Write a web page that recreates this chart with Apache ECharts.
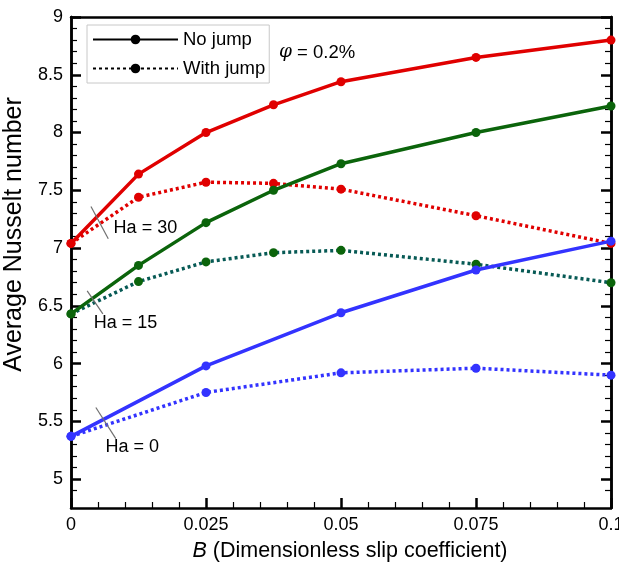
<!DOCTYPE html>
<html>
<head>
<meta charset="utf-8">
<script src="https://cdn.jsdelivr.net/npm/echarts@6/dist/echarts.min.js"></script>
<style>
  html, body { margin: 0; padding: 0; background: #fff; }
  #chart { width: 619px; height: 564px; }
</style>
</head>
<body>
<div id="chart"></div>
<script>
// Slip coefficient values where each curve was evaluated
const slipB = [0, 0.0125, 0.025, 0.0375, 0.05, 0.075, 0.1];
const slipBCoarse = [0, 0.025, 0.05, 0.075, 0.1];

// Average Nusselt number, Ha = 30
const ha30NoJump   = [7.04, 7.64, 8.00, 8.24, 8.44, 8.65, 8.80];
const ha30WithJump = [7.04, 7.44, 7.57, 7.56, 7.51, 7.28, 7.04];
// Ha = 15
const ha15NoJump   = [6.43, 6.85, 7.22, 7.50, 7.73, 8.00, 8.23];
const ha15WithJump = [6.43, 6.71, 6.88, 6.96, 6.98, 6.86, 6.70];
// Ha = 0
const ha0NoJump    = [5.37, 5.98, 6.44, 6.81, 7.06];
const ha0WithJump  = [5.37, 5.75, 5.92, 5.96, 5.90];

// Axis ticks
const xTicks = [0, 0.025, 0.05, 0.075, 0.1];
const yTicks = [5, 5.5, 6, 6.5, 7, 7.5, 8, 8.5, 9];
const yMin = 4.75, yMax = 9;

// Hartmann-number callouts: leader line ends and label anchor (data units)
const haNotes = [
  { text: 'Ha = 30', from: [0.0037, 7.36], to: [0.0069, 7.08], at: [0.0078, 7.17] },
  { text: 'Ha = 15', from: [0.0030, 6.63], to: [0.0059, 6.43], at: [0.0041, 6.35] },
  { text: 'Ha = 0',  from: [0.0046, 5.62], to: [0.0083, 5.35], at: [0.0063, 5.28] }
];

const FONT = 'Liberation Sans, Arial, Helvetica, sans-serif';
const RED = '#e00000', GREEN = '#0b640b', TEAL = '#075a55', BLUE = '#3333ff';
const LW = 3.5;
const DOT = [3, 3];

// minor ticks every 0.1 on the value axis
const yMinor = [];
for (let k = Math.round(yMin * 10) + 1; k <= yMax * 10; k++) {
  const v = k / 10;
  if (!yTicks.some(t => Math.abs(t - v) < 1e-9)) yMinor.push(v);
}

function pairs(xs, ys) { return xs.map((x, i) => [x, ys[i]]); }

function curve(name, xs, ys, color, dotted, markerColor) {
  return {
    name: name,
    type: 'line',
    data: pairs(xs, ys),
    symbol: 'circle',
    symbolSize: 9,
    showSymbol: true,
    color: color,
    itemStyle: { color: markerColor || color },
    lineStyle: { width: LW, color: color, type: dotted ? DOT : 'solid', cap: 'butt' },
    z: dotted ? 3 : 4,
    silent: true,
    animation: false
  };
}

function valueAxis(position, ticks, len, width, withLabels) {
  return {
    type: 'value', min: yMin, max: yMax, position: position,
    axisLine: { show: true, onZero: false, lineStyle: { color: '#000', width: 2.5 } },
    axisTick: { show: true, inside: true, length: len, customValues: ticks, lineStyle: { color: '#000', width: width } },
    axisLabel: withLabels ? { show: true, customValues: yTicks, margin: 8, color: '#000', fontSize: 18, fontFamily: FONT }
                          : { show: false },
    splitLine: { show: false }
  };
}

const series = [
  curve('Ha30 no jump', slipB, ha30NoJump, RED, false),
  curve('Ha30 with jump', slipB, ha30WithJump, RED, true),
  curve('Ha15 no jump', slipB, ha15NoJump, GREEN, false),
  curve('Ha15 with jump', slipB, ha15WithJump, TEAL, true, GREEN),
  curve('Ha0 no jump', slipBCoarse, ha0NoJump, BLUE, false),
  curve('Ha0 with jump', slipBCoarse, ha0WithJump, BLUE, true),
  // legend keys
  { name: 'No jump', type: 'line', data: [], symbol: 'circle', symbolSize: 10, color: '#000',
    lineStyle: { width: LW, color: '#000' } },
  { name: 'With jump', type: 'line', data: [], symbol: 'circle', symbolSize: 10, color: '#000',
    lineStyle: { width: LW, color: '#000', type: DOT } }
];

haNotes.forEach(n => {
  series.push({
    type: 'line', data: [n.from, n.to], symbol: 'none', silent: true, animation: false,
    lineStyle: { color: '#707070', width: 1.2 }, z: 6
  });
  series.push({
    type: 'scatter', data: [n.at], symbolSize: 1, silent: true, animation: false, z: 6,
    itemStyle: { color: 'rgba(0,0,0,0)' },
    label: { show: true, position: 'right', distance: 0, verticalAlign: 'middle',
             formatter: n.text, color: '#000', opacity: 1, fontSize: 18, fontFamily: FONT,
             textBorderWidth: 0 }
  });
});

const chart = echarts.init(document.getElementById('chart'), null, { renderer: 'canvas' });
chart.setOption({
  backgroundColor: '#fff',
  animation: false,
  grid: { left: 71, right: 8, top: 17, bottom: 56, outerBoundsMode: 'none', containLabel: false },
  title: {
    left: 274, top: 38,
    text: '{i|φ} = 0.2%',
    textStyle: { fontSize: 18.5, fontWeight: 'normal', color: '#000', fontFamily: FONT,
                 rich: { i: { fontStyle: 'italic', fontSize: 18.5, fontFamily: 'DejaVu Serif, serif', color: '#000' } } }
  },
  legend: {
    data: ['No jump', 'With jump'],
    orient: 'vertical', left: 87, top: 25,
    itemWidth: 85, itemHeight: 12, itemGap: 10,
    padding: [5, 4, 5, 5],
    borderColor: '#c8c8c8', borderWidth: 1, backgroundColor: '#fff',
    textStyle: { fontSize: 18.5, color: '#000', fontFamily: FONT },
    selectedMode: false
  },
  xAxis: [
    {
      type: 'value', min: 0, max: 0.1, interval: 0.025, position: 'bottom',
      name: '{b|B} (Dimensionless slip coefficient)',
      nameLocation: 'middle', nameGap: 32,
      nameTextStyle: { fontSize: 21.5, color: '#000', fontFamily: FONT, padding: [0, 0, 0, 18],
                       rich: { b: { fontStyle: 'italic', fontSize: 21.5, color: '#000', fontFamily: FONT } } },
      axisLine: { onZero: false, lineStyle: { color: '#000', width: 2.5 } },
      axisTick: { inside: true, length: 10, lineStyle: { color: '#000', width: 2.5 } },
      minorTick: { show: true, splitNumber: 5, length: 6, lineStyle: { color: '#000', width: 1.2 } },
      axisLabel: { margin: 8, color: '#000', fontSize: 18, fontFamily: FONT,
                   customValues: xTicks },
      splitLine: { show: false }
    },
    {
      type: 'value', min: 0, max: 0.1, position: 'top',
      axisLine: { onZero: false, lineStyle: { color: '#000', width: 2.5 } },
      axisTick: { show: false }, axisLabel: { show: false }, splitLine: { show: false }
    }
  ],
  yAxis: [
    Object.assign(valueAxis('left', yTicks, 10, 2.5, true), {
      name: 'Average Nusselt number', nameLocation: 'middle', nameGap: 36,
      nameTextStyle: { fontSize: 25, color: '#000', fontFamily: FONT, padding: [0, 0, 0, 56] }
    }),
    valueAxis('left', yMinor, 6, 1.2, false),
    valueAxis('right', yTicks, 10, 2.5, false),
    valueAxis('right', yMinor, 6, 1.2, false)
  ],
  series: series
});
</script>
</body>
</html>
